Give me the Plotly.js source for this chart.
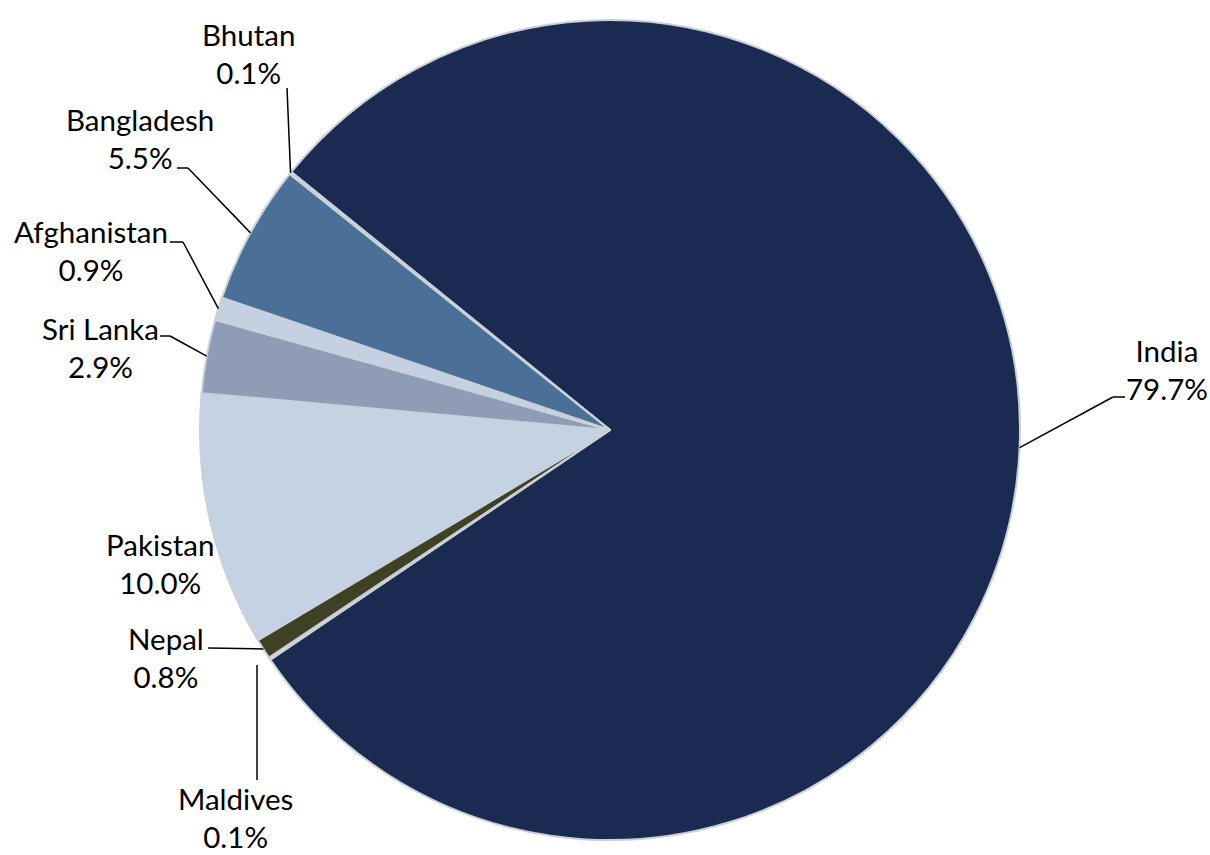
<!DOCTYPE html>
<html>
<head>
<meta charset="utf-8">
<script src="https://cdn.plot.ly/plotly-3.0.1.min.js"></script>
<style>html,body{margin:0;padding:0;background:#fff;}#chart{width:1210px;height:855px;}</style>
</head>
<body>
<div id="chart"></div>
<script>
// Data (clockwise order starting with India)
const countries = ["India", "Maldives", "Nepal", "Pakistan", "Sri Lanka", "Afghanistan", "Bangladesh", "Bhutan"];
const shares = [79.7, 0.1, 0.8, 10.0, 2.9, 0.9, 5.5, 0.1];
const sliceColors = ["#1b2a50", "#e4e9f0", "#3e4124", "#c5d2e4", "#8f9cb5", "#c5d0e2", "#4a7098", "#cfd7e3"];

// Layout geometry (pixels)
const W = 1210, H = 855;
const CX = 610, CY = 430, R = 410;
const ROTATION = -51;

// label block centers and leader elbow points (pixels)
const labelPos = {
  "India":       {x: 1167, y: 369, elbow: [[1125, 397], [1113, 397]], touch: true},
  "Maldives":    {x: 235,  y: 817, elbow: [[257, 780], [257, 665]], touch: false},
  "Nepal":       {x: 166,  y: 657, elbow: [[208, 648]], touch: true},
  "Pakistan":    {x: 160,  y: 563, elbow: null},
  "Sri Lanka":   {x: 100,  y: 347, elbow: [[160, 336], [170, 336]], touch: true},
  "Afghanistan": {x: 91,   y: 251, elbow: [[170, 242], [183, 242]], touch: true},
  "Bangladesh":  {x: 140,  y: 138, elbow: [[177, 168], [188, 168]], touch: true},
  "Bhutan":      {x: 248,  y: 53,  elbow: [[287, 88]], touch: true}
};

const px = x => x / W;
const py = y => 1 - y / H;

const total = shares.reduce((a, b) => a + b, 0);
const annotations = [];
const shapes = [];
let acc = 0;
countries.forEach((c, i) => {
  const mid = ROTATION + (acc + shares[i] / 2) / total * 360;
  acc += shares[i];
  const a = mid * Math.PI / 180;
  const ex = CX + R * Math.sin(a), ey = CY - R * Math.cos(a);
  const lp = labelPos[c];
  annotations.push({
    xref: "paper", yref: "paper", x: px(lp.x), y: py(lp.y),
    xanchor: "center", yanchor: "middle", showarrow: false,
    text: c + "<br>" + shares[i].toFixed(1) + "%",
    font: {family: "Lato, 'Open Sans', sans-serif", size: 29.5, color: "#000"}
  });
  if (lp.elbow) {
    const pts = lp.touch ? lp.elbow.concat([[ex, ey]]) : lp.elbow;
    for (let k = 0; k < pts.length - 1; k++) {
      shapes.push({
        type: "line", xref: "paper", yref: "paper",
        x0: px(pts[k][0]), y0: py(pts[k][1]), x1: px(pts[k + 1][0]), y1: py(pts[k + 1][1]),
        line: {color: "#000", width: 1.5}
      });
    }
  }
});

const trace = {
  type: "pie",
  labels: countries,
  values: shares,
  sort: false,
  direction: "clockwise",
  rotation: ROTATION,
  textinfo: "none",
  hoverinfo: "label+percent",
  marker: {colors: sliceColors, line: {color: "#c9d0da", width: 2}},
  domain: {x: [px(CX - R), px(CX + R)], y: [py(CY + R), py(CY - R)]},
  showlegend: false
};

const layout = {
  width: W, height: H,
  margin: {l: 0, r: 0, t: 0, b: 0},
  paper_bgcolor: "#fff",
  plot_bgcolor: "#fff",
  showlegend: false,
  annotations: annotations,
  shapes: shapes
};

Plotly.newPlot("chart", [trace], layout, {displayModeBar: false, staticPlot: true});
</script>
</body>
</html>
